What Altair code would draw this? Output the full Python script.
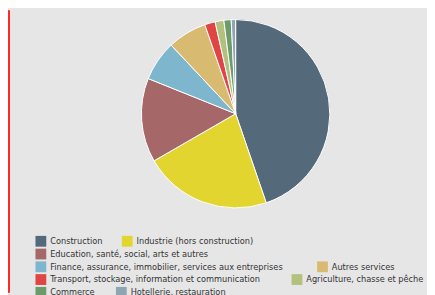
import altair as alt
import pandas as pd

categories = [
    "Construction",
    "Industrie (hors construction)",
    "Education, santé, social, arts et autres",
    "Finance, assurance, immobilier, services aux entreprises",
    "Autres services",
    "Transport, stockage, information et communication",
    "Agriculture, chasse et pêche",
    "Commerce",
    "Hotellerie, restauration",
]
values = [44.7, 21.9, 14.4, 6.9, 6.7, 1.8, 1.5, 1.25, 0.75]
colors = ["#546a7b", "#e2d52f", "#a56767", "#7db6cd", "#d9ba71",
          "#e04545", "#b2c17d", "#6c9c6c", "#8fa6b2"]

df = pd.DataFrame({"cat": categories, "val": values, "idx": list(range(len(categories)))})

W, H = 427, 287
FONT = "DejaVu Sans Condensed"

pie = alt.Chart(df).mark_arc(outerRadius=96, stroke="white", strokeWidth=1).encode(
    theta=alt.Theta("val:Q", stack=True),
    order=alt.Order("idx:Q"),
    color=alt.Color("cat:N", scale=alt.Scale(domain=categories, range=colors), legend=None),
    x=alt.value(232),
    y=alt.value(105),
)

border = alt.Chart(df).mark_rule(color="#ff2a2a", strokeWidth=1.5).encode(
    x=alt.value(0.75), y=alt.value(0), y2=alt.value(H)
)

# legend placement (chart coords of each item's top-left)
legend_pos = [(28, 229.5), (116, 229.5), (28, 242.5), (28, 255.5), (315, 255.5),
              (28, 268.5), (289, 268.5), (28, 281.5), (110, 281.5)]

layers = [pie, border]
for i, cat in enumerate(categories):
    lx, ly = legend_pos[i]
    lay = alt.Chart(df).transform_filter(alt.datum.cat == cat).mark_square(opacity=0).encode(
        color=alt.Color(
            "cat:N",
            scale=alt.Scale(domain=[cat], range=[colors[i]]),
            legend=alt.Legend(
                title=None, orient="none", legendX=lx, legendY=ly,
                symbolType="square", symbolSize=121, symbolOpacity=1,
                symbolStrokeWidth=0, labelFont=FONT, labelFontSize=9.3,
                labelColor="#333333", labelOffset=4, labelLimit=400, padding=0,
            ),
        ),
        x=alt.value(-50), y=alt.value(-50),
    )
    layers.append(lay)

chart = alt.layer(*layers).resolve_scale(color="independent").properties(
    width=W, height=H, background="#e6e6e6", padding=0,
    autosize=alt.AutoSizeParams(type="none"),
).configure_view(stroke=None)

chart.save("out.html", embed_options={"renderer": "svg", "actions": False})
